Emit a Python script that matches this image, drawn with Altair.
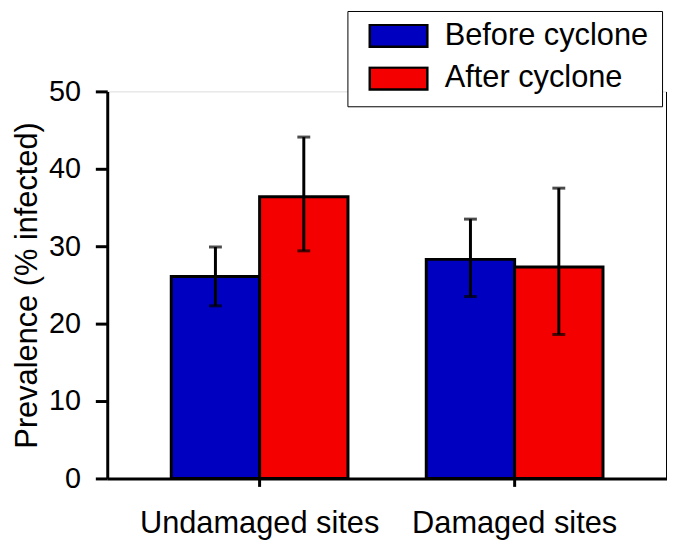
import altair as alt
import pandas as pd

sites = ["Undamaged sites", "Undamaged sites", "Damaged sites", "Damaged sites"]
periods = ["Before cyclone", "After cyclone", "Before cyclone", "After cyclone"]
prevalence = [26.1, 36.4, 28.3, 27.3]
err_low = [22.3, 29.4, 23.5, 18.6]
err_high = [29.9, 44.1, 33.5, 37.5]

site_order = ["Undamaged sites", "Damaged sites"]
period_order = ["Before cyclone", "After cyclone"]
colors = ["#0000C0", "#F50000"]
major_ticks = [0, 10, 20, 30, 40, 50]
minor_ticks = [5, 15, 25, 35, 45]

df = pd.DataFrame({"site": sites, "period": periods, "value": prevalence,
                   "lo": err_low, "hi": err_high})

FONT = "Liberation Sans"
LW = 3

x_enc = alt.X("site:N", sort=site_order, title=None,
              scale=alt.Scale(paddingInner=0.307, paddingOuter=0.251),
              axis=alt.Axis(labelAngle=0, labelFontSize=31, labelPadding=22, labelLimit=600,
                            tickSize=8, tickWidth=LW, tickColor="black",
                            domainColor="black", domainWidth=LW,
                            labelColor="black", labelFont=FONT))
xoff = alt.XOffset("period:N", sort=period_order,
                   scale=alt.Scale(domain=period_order, paddingInner=0, paddingOuter=0))
yscale = alt.Scale(domain=[0, 50], nice=False)

bars = alt.Chart(df).mark_bar(stroke="black", strokeWidth=LW).encode(
    x=x_enc,
    xOffset=xoff,
    y=alt.Y("value:Q", scale=yscale, title="Prevalence (% infected)",
            axis=alt.Axis(values=major_ticks, tickSize=12, tickWidth=LW, tickColor="black",
                          domainColor="black", domainWidth=LW, domainOpacity=1,
                          labelFontSize=29, labelPadding=15, labelColor="black",
                          labelFont=FONT, titleFontSize=31, titleFont=FONT,
                          titleFontWeight="normal", titleColor="black", titlePadding=5,
                          grid=False, zindex=2)),
    color=alt.Color("period:N", sort=period_order,
                    scale=alt.Scale(domain=period_order, range=colors),
                    legend=alt.Legend(title=None, orient="none", legendX=242, legendY=-81,
                                      symbolType="M-1,-0.38H1V0.38H-1Z", symbolSize=3364,
                                      symbolStrokeColor="black", symbolStrokeWidth=2.5,
                                      symbolOpacity=1, symbolOffset=8, clipHeight=24,
                                      rowPadding=12, labelFontSize=31, labelFont=FONT,
                                      labelColor="black", labelOffset=16, padding=13,
                                      strokeColor="black", fillColor="white", labelLimit=400)),
)

rules = alt.Chart(df).mark_rule(color="black", strokeWidth=LW).encode(
    x=alt.X("site:N", sort=site_order),
    xOffset=xoff,
    y=alt.Y("lo:Q", scale=yscale, title=None,
            axis=alt.Axis(values=minor_ticks, labels=False, domain=True, domainColor="black",
                          domainWidth=LW, tickSize=8, tickWidth=LW, tickColor="black",
                          grid=False, title=None, zindex=2)),
    y2="hi:Q",
)

cap_lo = alt.Chart(df).mark_tick(color="black", thickness=LW, size=13, orient="horizontal").encode(
    x=alt.X("site:N", sort=site_order),
    xOffset=xoff,
    y=alt.Y("lo:Q", scale=yscale, axis=None),
)
cap_hi = alt.Chart(df).mark_tick(color="black", thickness=LW, size=13, orient="horizontal").encode(
    x=alt.X("site:N", sort=site_order),
    xOffset=xoff,
    y=alt.Y("hi:Q", scale=yscale, axis=None),
)

chart = alt.layer(bars, rules, cap_lo, cap_hi).resolve_axis(y="independent").properties(
    width=564, height=390, autosize="none",
    padding={"left": 100, "top": 82, "right": 0, "bottom": 60},
).configure_view(stroke=None).configure_legend(strokeWidth=2.5).configure_axis(
    domainColor="black", domainWidth=LW, tickColor="black"
).configure(background="white")

chart.save("out.html", embed_options={"renderer": "svg", "actions": False})
